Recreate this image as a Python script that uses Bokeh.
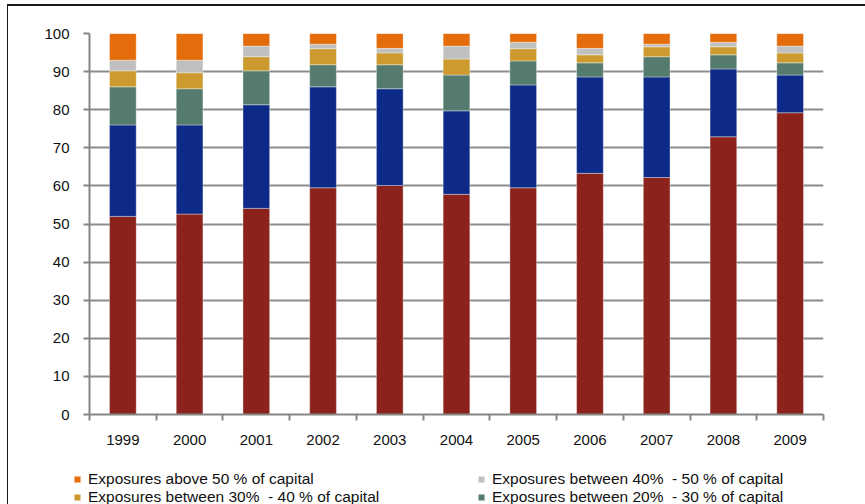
from bokeh.plotting import figure
from bokeh.layouts import column
from bokeh.models import (Range1d, FixedTicker, Legend, LegendItem, ColumnDataSource)
from bokeh.embed import file_html
from bokeh.resources import INLINE

years = ["1999", "2000", "2001", "2002", "2003", "2004", "2005", "2006", "2007", "2008", "2009"]
below_10 = [52.0, 52.6, 54.1, 59.5, 60.1, 57.8, 59.5, 63.3, 62.2, 72.9, 79.2]
between_10_20 = [24.0, 23.4, 27.2, 26.5, 25.4, 21.9, 27.0, 25.3, 26.4, 17.8, 9.9]
between_20_30 = [10.0, 9.5, 8.9, 5.8, 6.3, 9.4, 6.3, 3.7, 5.3, 3.7, 3.2]
between_30_40 = [4.2, 4.2, 3.7, 4.2, 3.1, 4.2, 3.2, 2.1, 2.6, 2.1, 2.6]
between_40_50 = [2.8, 3.3, 2.8, 1.2, 1.2, 3.4, 1.7, 1.7, 0.7, 1.2, 1.8]
above_50 = [7.0, 7.0, 3.3, 2.8, 3.9, 3.3, 2.3, 3.9, 2.8, 2.3, 3.3]

labels = [
    "Exposures below 10 % of capital",
    "Exposures between 10%  - 20 % of capital",
    "Exposures between 20%  - 30 % of capital",
    "Exposures between 30%  - 40 % of capital",
    "Exposures between 40%  - 50 % of capital",
    "Exposures above 50 % of capital",
]
keys = ["b10", "b1020", "b2030", "b3040", "b4050", "a50"]
colors = ["#8B231C", "#0D2A88", "#557B6F", "#CC9A2E", "#C0C0C0", "#E46C0A"]

FONT = "Liberation Sans"

x = [i + 0.5 for i in range(len(years))]
source = ColumnDataSource(dict(x=x, b10=below_10, b1020=between_10_20, b2030=between_20_30,
                               b3040=between_30_40, b4050=between_40_50, a50=above_50))

p = figure(width=857, height=455, output_backend="svg", toolbar_location=None,
           x_range=Range1d(0, len(years)), y_range=Range1d(0, 100),
           min_border_left=81, min_border_right=42, min_border_top=27, min_border_bottom=47)
p.frame_align = False
p.outline_line_color = None
p.background_fill_color = "white"
p.border_fill_color = "white"

renderers = p.vbar_stack(keys, x="x", width=0.4, source=source, fill_color=colors,
                         line_color="white", line_alpha=0.35, line_width=1)

p.xgrid.visible = False
p.ygrid.grid_line_color = "#8c8c8c"
p.ygrid.grid_line_width = 2
p.yaxis.ticker = FixedTicker(ticks=list(range(0, 101, 10)))
p.xaxis.ticker = FixedTicker(ticks=x, minor_ticks=list(range(0, len(years) + 1)))
p.xaxis.major_label_overrides = {xi: y for xi, y in zip(x, years)}

for ax in (p.xaxis[0], p.yaxis[0]):
    ax.axis_line_color = "#868686"
    ax.axis_line_width = 2
    ax.major_label_text_font = FONT
    ax.major_label_text_font_size = "15px"
    ax.major_label_text_color = "#111111"

p.yaxis.major_tick_line_color = "#868686"
p.yaxis.major_tick_line_width = 2
p.yaxis.major_tick_out = 6
p.yaxis.major_tick_in = 0
p.yaxis.minor_tick_line_color = None
p.yaxis.major_label_standoff = 14

p.xaxis.major_tick_line_color = None
p.xaxis.major_tick_out = 6
p.xaxis.major_tick_in = 0
p.xaxis.minor_tick_line_color = "#868686"
p.xaxis.minor_tick_line_width = 2
p.xaxis.minor_tick_out = 6
p.xaxis.minor_tick_in = 0
p.xaxis.major_label_standoff = 14

# legend strip: same series drawn out of view, only their legend swatches show
lg = figure(width=857, height=43, output_backend="svg", toolbar_location=None,
            x_range=Range1d(0, 1), y_range=Range1d(200, 201), min_border=0)
lg.frame_align = False
lg.axis.visible = False
lg.grid.visible = False
lg.outline_line_color = None
lg.border_fill_color = "white"
lg.background_fill_color = "white"
order = [5, 4, 3, 2]
items = []
for i in order:
    r = lg.vbar(x="x", top=keys[i], width=0.4, source=source, fill_color=colors[i],
                line_color="white", line_alpha=0.35)
    items.append(LegendItem(label=labels[i], renderers=[r]))
legend = Legend(items=items, location=(65, -2), orientation="horizontal", ncols=2,
                border_line_color=None, background_fill_alpha=0, padding=0, margin=0,
                spacing=0, label_height=17, glyph_width=8, glyph_height=8,
                label_standoff=7, label_width=389, label_text_font=FONT,
                label_text_font_size="15.5px", label_text_color="#111111")
lg.add_layout(legend)

layout = column(p, lg, spacing=0, margin=(4, 0, 0, 7),
                styles={"border-left": "1px solid #1a1a1a", "border-top": "2px solid #1a1a1a"})

open("out.html", "w").write(file_html(layout, INLINE))
